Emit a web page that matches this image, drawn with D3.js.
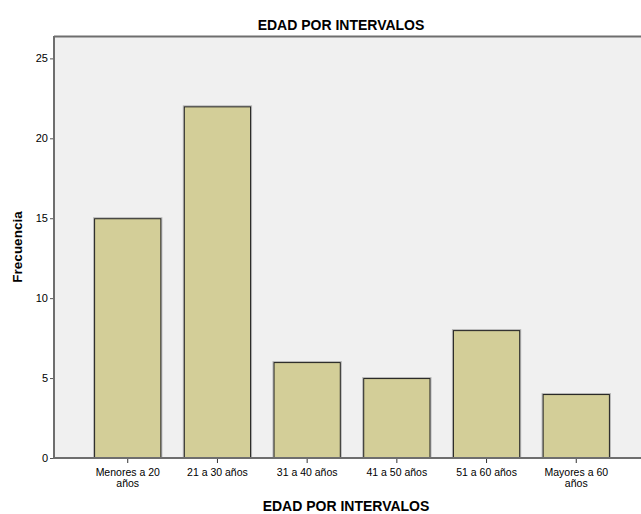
<!DOCTYPE html>
<html>
<head>
<meta charset="utf-8">
<script src="https://cdn.jsdelivr.net/npm/d3@7"></script>
<style>
  body { margin: 0; background: #fff; }
  svg text { font-family: "Liberation Sans", Arial, sans-serif; fill: #000; }
</style>
</head>
<body>
<div class="container"></div>
<script>
const w = 641;
const h = 514;

// data
const categories = ["Menores a 20 años", "21 a 30 años", "31 a 40 años", "41 a 50 años", "51 a 60 años", "Mayores a 60 años"];
const frecuencia = [15, 22, 6, 5, 8, 4];
const yTicks = [0, 5, 10, 15, 20, 25];

const plot = { left: 54, top: 36, right: 650, bottom: 458 };

const svg = d3.select('.container').append('svg')
  .attr('width', w)
  .attr('height', h);

const x = d3.scaleBand()
  .domain(categories)
  .range([plot.left, plot.right])
  .paddingInner(0.25)
  .paddingOuter(0.447);

const y = d3.scaleLinear()
  .domain([0, 26.4])
  .range([plot.bottom, plot.top]);

// plot background
svg.append('rect')
  .attr('x', plot.left)
  .attr('y', plot.top)
  .attr('width', w - plot.left)
  .attr('height', plot.bottom - plot.top)
  .attr('fill', '#f0f0f0');

// top frame line
svg.append('line')
  .attr('x1', plot.left).attr('x2', w)
  .attr('y1', plot.top + 0.5).attr('y2', plot.top + 0.5)
  .attr('stroke', '#6e6e6e')
  .attr('stroke-width', 2);

// bars (with faint halo)
const bars = svg.append('g');
bars.selectAll('rect.shadow')
  .data(frecuencia)
  .enter().append('rect')
  .attr('class', 'shadow')
  .attr('x', (d, i) => x(categories[i]) - 0.5)
  .attr('y', d => y(d) - 0.5)
  .attr('width', x.bandwidth() + 1)
  .attr('height', d => y(0) - y(d) + 0.5)
  .attr('fill', 'none')
  .attr('stroke', '#b4b4b4')
  .attr('stroke-width', 1);

bars.selectAll('rect.bar')
  .data(frecuencia)
  .enter().append('rect')
  .attr('class', 'bar')
  .attr('x', (d, i) => x(categories[i]) + 0.5)
  .attr('y', d => y(d) + 0.5)
  .attr('width', x.bandwidth() - 1)
  .attr('height', d => y(0) - y(d) - 0.5)
  .attr('fill', '#d3ce98')
  .attr('stroke', '#1e1e1e')
  .attr('stroke-width', 1);

// y axis
const yAxis = svg.append('g')
  .attr('transform', `translate(${plot.left},0)`)
  .call(d3.axisLeft(y).tickValues(yTicks).tickSize(4).tickPadding(2));
yAxis.select('.domain').remove();
yAxis.selectAll('.tick line').attr('stroke', '#555');
yAxis.selectAll('.tick text')
  .attr('font-size', 11)
  .attr('fill', '#222');
svg.append('line')
  .attr('x1', plot.left).attr('x2', plot.left)
  .attr('y1', plot.top).attr('y2', plot.bottom + 1)
  .attr('stroke', '#6e6e6e')
  .attr('stroke-width', 2);

// x axis
const xAxis = svg.append('g')
  .attr('transform', `translate(0,${plot.bottom})`)
  .call(d3.axisBottom(x).tickSize(5).tickSizeOuter(0).tickPadding(3));
xAxis.select('.domain').remove();
xAxis.selectAll('.tick line').attr('stroke', '#333');
xAxis.selectAll('.tick text').remove();
xAxis.selectAll('.tick').each(function(d) {
  const m = d.match(/^(.*) (años)$/);
  const lines = /^(Menores|Mayores)/.test(d) ? [m[1], m[2]] : [d];
  const t = d3.select(this).append('text')
    .attr('text-anchor', 'middle')
    .attr('font-size', 10.5)
    .attr('fill', '#111');
  t.selectAll('tspan')
    .data(lines)
    .enter().append('tspan')
    .attr('x', 0)
    .attr('y', (s, i) => 18 + i * 10.5)
    .text(s => s);
});
svg.append('line')
  .attr('x1', plot.left).attr('x2', w)
  .attr('y1', plot.bottom).attr('y2', plot.bottom)
  .attr('stroke', '#6e6e6e')
  .attr('stroke-width', 2);

// titles
svg.append('text')
  .attr('x', 341)
  .attr('y', 30)
  .attr('text-anchor', 'middle')
  .attr('font-size', 14)
  .attr('font-weight', 'bold')
  .text('EDAD POR INTERVALOS');

svg.append('text')
  .attr('x', 346)
  .attr('y', 511)
  .attr('text-anchor', 'middle')
  .attr('font-size', 14)
  .attr('font-weight', 'bold')
  .text('EDAD POR INTERVALOS');

svg.append('text')
  .attr('transform', 'translate(22,247) rotate(-90)')
  .attr('text-anchor', 'middle')
  .attr('font-size', 13.5)
  .attr('font-weight', 'bold')
  .text('Frecuencia');
</script>
</body>
</html>
